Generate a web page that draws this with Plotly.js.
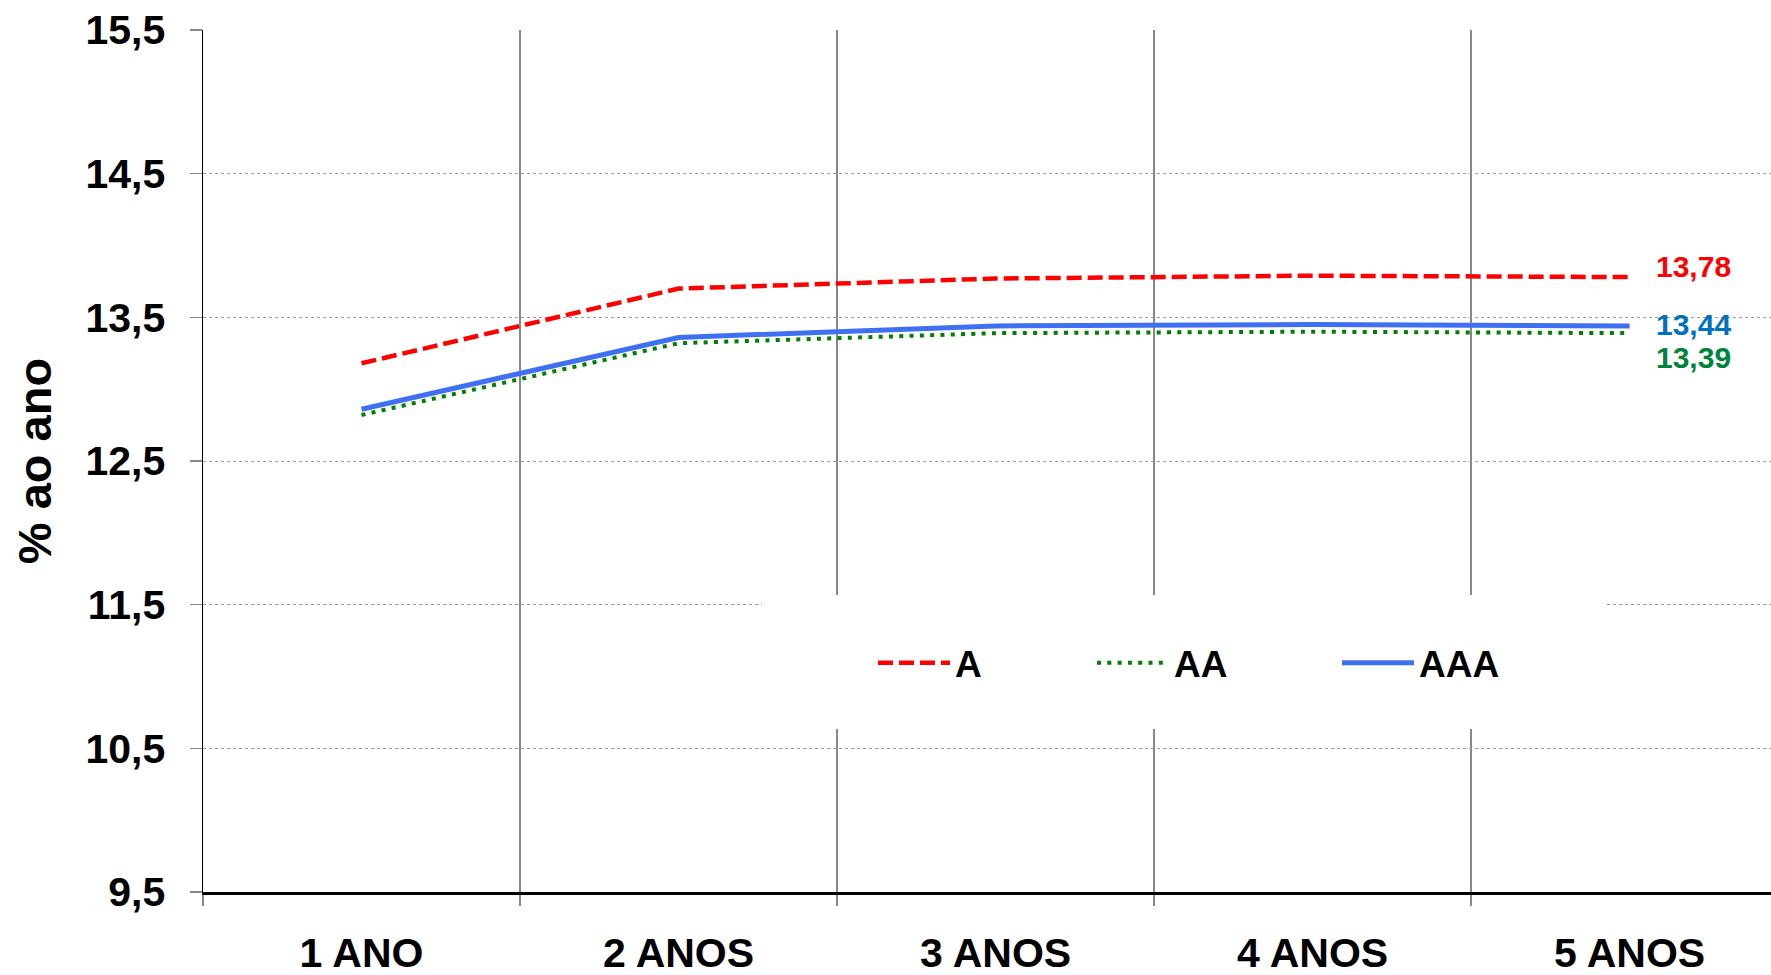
<!DOCTYPE html>
<html>
<head>
<meta charset="utf-8">
<script src="https://cdn.plot.ly/plotly-3.0.1.min.js"></script>
<style>
html,body{margin:0;padding:0;background:#fff;overflow:hidden}
#chart{width:1771px;height:975px}
</style>
</head>
<body>
<div id="chart"></div>
<script>
// ---- data ----
const categories = ['1 ANO', '2 ANOS', '3 ANOS', '4 ANOS', '5 ANOS'];
const seriesNames = ['A', 'AA', 'AAA'];
const valuesA   = [13.18, 13.70, 13.77, 13.79, 13.78];
const valuesAA  = [12.82, 13.32, 13.39, 13.40, 13.39];
const valuesAAA = [12.86, 13.36, 13.44, 13.45, 13.44];
const yTickValues = [9.5, 10.5, 11.5, 12.5, 13.5, 14.5, 15.5];
const yAxisTitle = '% ao ano';

// ---- styles ----
const FONT = 'Liberation Sans, Arial, Helvetica, sans-serif';
const lineColors  = ['#ff0000', '#008000', '#4070f2'];
const labelColors = ['#ff0000', '#00843d', '#0070c0'];
const dashes      = ['15px,6px', '4px,6.3px', 'solid'];
const widths      = [4.5, 4, 5];
const legendWidths = [132, 158, 90];
const labelShifts = [11, -24, 1];

const seriesValues = [valuesA, valuesAA, valuesAAA];

const traces = seriesNames.map((name, i) => ({
  type: 'scatter',
  mode: 'lines',
  name: name,
  x: categories,
  y: seriesValues[i],
  line: {color: lineColors[i], width: widths[i], dash: dashes[i]},
  legendwidth: legendWidths[i],
  hoverinfo: 'skip'
}));

const fmt = v => v.toFixed(2).replace('.', ',');

const annotations = seriesNames.map((name, i) => {
  const vals = seriesValues[i];
  return {
    xref: 'x', yref: 'y',
    x: categories[categories.length - 1],
    y: vals[vals.length - 1],
    text: fmt(vals[vals.length - 1]),
    showarrow: false,
    xanchor: 'center', yanchor: 'middle',
    xshift: 64, yshift: labelShifts[i],
    font: {family: FONT, size: 30, weight: 'bold', color: labelColors[i]}
  };
});

const layout = {
  width: 1771, height: 975,
  paper_bgcolor: '#ffffff', plot_bgcolor: '#ffffff',
  margin: {l: 203, r: 0, t: 30, b: 83},
  separators: ',.',
  font: {family: FONT, color: '#000000', weight: 'bold'},
  showlegend: true,
  legend: {
    orientation: 'h',
    x: 0.4273, xanchor: 'left', xref: 'paper',
    y: 0.2655, yanchor: 'middle', yref: 'paper',
    bgcolor: 'rgba(0,0,0,0)', borderwidth: 0,
    itemwidth: 72,
    font: {family: FONT, size: 37, weight: 'bold', color: '#000'},
    traceorder: 'normal'
  },
  xaxis: {
    type: 'category',
    categoryorder: 'array', categoryarray: categories,
    range: [-0.5, 4.446],
    tickson: 'boundaries',
    ticks: 'outside', ticklen: 11, tickwidth: 1.5, tickcolor: '#888888',
    showgrid: true, gridcolor: '#888888', gridwidth: 1.5,
    showline: true, linecolor: '#000000', linewidth: 2.5,
    zeroline: false,
    tickfont: {family: FONT, size: 41, weight: 'bold', color: '#000'},
    ticklabelstandoff: 23,
    fixedrange: true
  },
  yaxis: {
    range: [9.5, 15.5],
    tickvals: yTickValues,
    tickformat: '.1f',
    ticks: 'outside', ticklen: 12, tickwidth: 1.5, tickcolor: '#888888',
    showgrid: true, gridcolor: '#9a9a9a', gridwidth: 1, griddash: 'dot',
    showline: true, linecolor: '#000000', linewidth: 1.5,
    zeroline: false,
    tickfont: {family: FONT, size: 41, weight: 'bold', color: '#000'},
    ticklabelstandoff: 16,
    title: {text: yAxisTitle, font: {family: FONT, size: 47, weight: 'bold', color: '#000'}, standoff: 19},
    fixedrange: true
  },
  shapes: [{
    type: 'rect', xref: 'paper', yref: 'paper',
    x0: 0.3565, x1: 0.8935, y0: 0.189, y1: 0.3445,
    fillcolor: '#ffffff', line: {width: 0}, layer: 'above'
  }],
  annotations: annotations
};

Plotly.newPlot('chart', traces, layout, {displayModeBar: false, staticPlot: true});
</script>
</body>
</html>
